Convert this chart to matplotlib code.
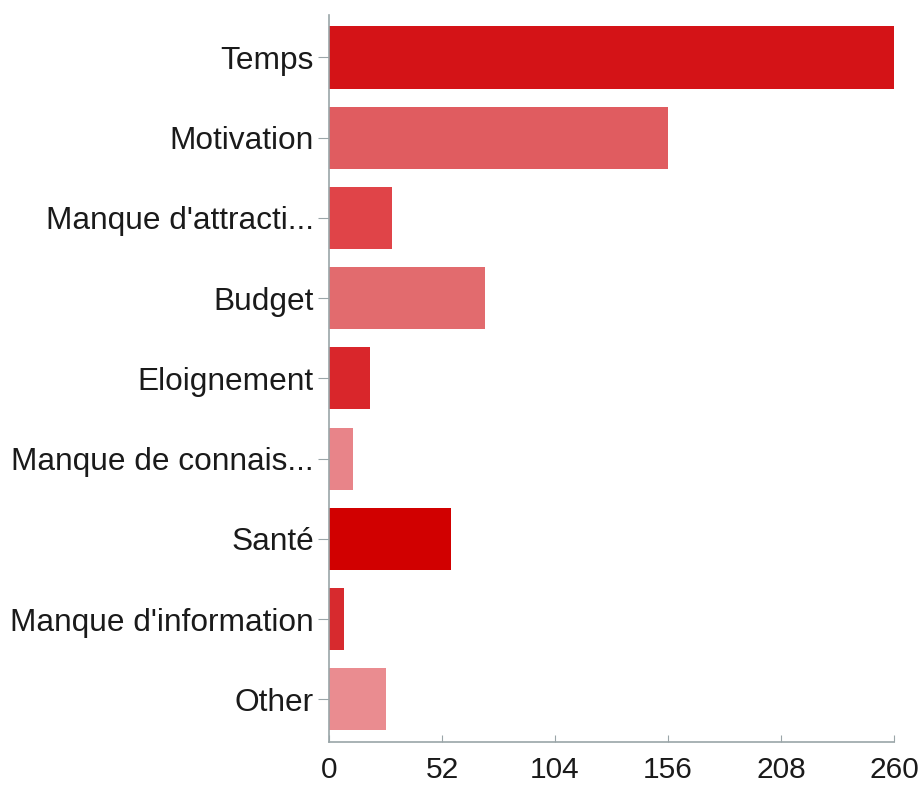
import matplotlib
matplotlib.use('Agg')
import matplotlib.pyplot as plt

# answers and counts
categories = ['Temps', 'Motivation', "Manque d'attracti...", 'Budget', 'Eloignement',
              'Manque de connais...', 'Santé', "Manque d'information", 'Other']
counts = [260, 156, 29, 72, 19, 11, 56, 7, 26]
bar_colors = ['#d41317', '#e05c60', '#e04448', '#e26b6e', '#d9262b',
              '#e88489', '#d10000', '#d72a2e', '#ea8c90']
x_ticks = [0, 52, 104, 156, 208, 260]

plt.rcParams['font.family'] = ['Liberation Sans', 'DejaVu Sans']

fig = plt.figure(figsize=(9.23, 7.85), dpi=100)
ax = fig.add_axes([0.3565, 0.055, 0.612, 0.926])

pos = list(range(len(categories)))
ax.barh(pos, counts, height=0.775, color=bar_colors, zorder=2)

ax.set_ylim(8.53, -0.53)
ax.set_xlim(0, 260)
ax.set_yticks(pos)
ax.set_yticklabels(categories, fontsize=22.8, color='#1a1a1a')
ax.set_xticks(x_ticks)
ax.set_xticklabels([str(t) for t in x_ticks], fontsize=21.5, color='#1a1a1a')

for side in ['top', 'right']:
    ax.spines[side].set_visible(False)
for side in ['left', 'bottom']:
    ax.spines[side].set_color('#9aa5a8')
    ax.spines[side].set_linewidth(1.2)

ax.tick_params(axis='y', direction='out', length=8, color='#9aa5a8', pad=3)
ax.tick_params(axis='x', direction='in', length=5, color='#9aa5a8', pad=10)

fig.savefig('out.png', dpi=100)
